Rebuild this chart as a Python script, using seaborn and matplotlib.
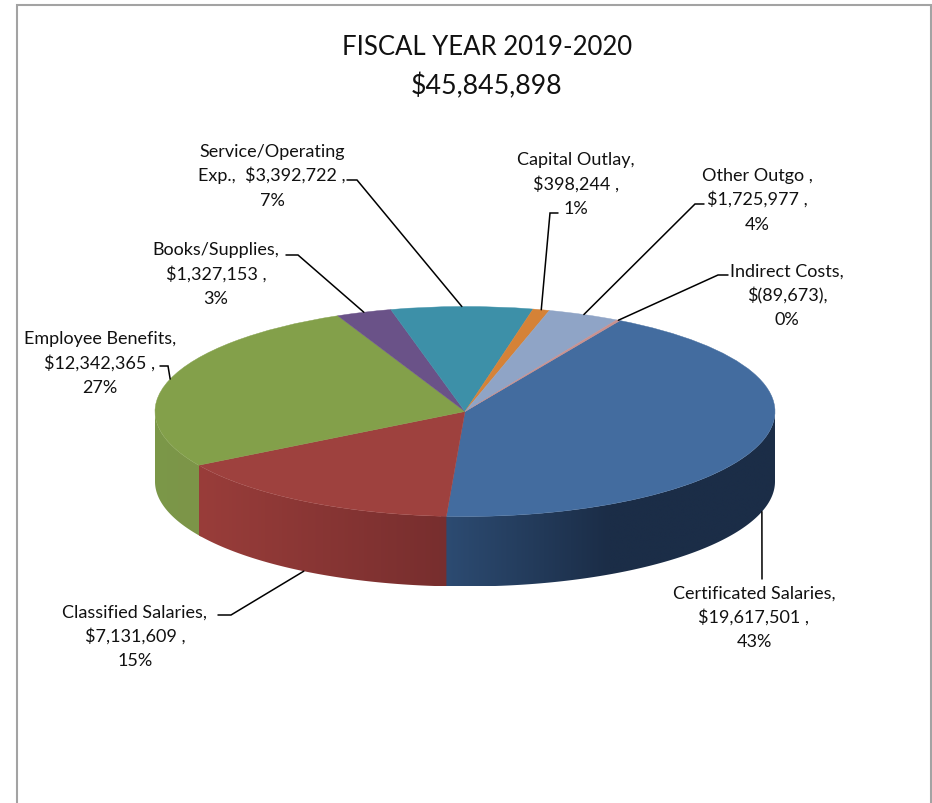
import numpy as np
import matplotlib
matplotlib.use("Agg")
import matplotlib.pyplot as plt
from matplotlib.colors import LinearSegmentedColormap
from matplotlib.patches import Polygon
import seaborn as sns

# Data
categories = ["Certificated Salaries", "Classified Salaries", "Employee Benefits",
              "Books/Supplies", "Service/Operating Exp.", "Capital Outlay",
              "Other Outgo", "Indirect Costs"]
amounts = [19617501, 7131609, 12342365, 1327153, 3392722, 398244, 1725977, -89673]
total_label = "$45,845,898"
title_label = "FISCAL YEAR 2019-2020"
top_colors = ["#436C9F", "#9E413E", "#83A04A", "#6A5288",
              "#3D90A8", "#D58237", "#8FA4C6", "#C9908E"]

sns.set_theme(style="white")
plt.rcParams["font.family"] = ["Lato", "DejaVu Sans"]

W, H = 932, 804
# geometry of the tilted pie, in pixels
CX, CY, RX, RY, DEPTH = 465, 412.5, 310, 105, 70
START = 60

sizes = np.abs(np.array(amounts, dtype=float))
shares = sizes / sizes.sum()
edges = START - np.concatenate([[0], np.cumsum(shares)]) * 360
mids = (edges[:-1] + edges[1:]) / 2


def money(v):
    return f"$({-v:,})" if v < 0 else f"${v:,}"


def rim(angle, lower=False):
    t = np.radians(angle)
    return CX + RX * np.cos(t), CY - RY * np.sin(t) + (DEPTH if lower else 0)


fig = plt.figure(figsize=(W / 100, H / 100), dpi=100, facecolor="white")

# pie top, squashed by the shape of the axes; the axes also hold the wall below it
ax = fig.add_axes([(CX - RX - 2) / W, (H - CY - RY - DEPTH - 2.5) / H,
                   (2 * RX + 4) / W, (2 * RY + DEPTH + 4.5) / H])
wedges, _ = ax.pie(sizes, colors=sns.color_palette(top_colors), startangle=START,
                   counterclock=False, radius=1,
                   wedgeprops=dict(linewidth=0.3, antialiased=True))
for w, c in zip(wedges, top_colors):
    w.set_edgecolor(c)
    w.set_zorder(3)

# front wall: a horizontal gradient clipped to the side of each slice
# (blue and green run a little way under the red one so no seam shows)
wall_ramps = {
    0: [(0.00, "#2D4C73"), (0.50, "#1B2D47"), (1.00, "#1B2D47")],
    1: [(0.00, "#993D3A"), (1.00, "#772E2E")],
    2: [(0.00, "#7B9848"), (1.00, "#7D9449")],
}
wall_pad = {0: (0, 1), 1: (0, 0), 2: (1, 0)}
d = DEPTH / RY
for i, ramp in wall_ramps.items():
    hi = 0 if i == 0 else edges[i] + wall_pad[i][0]
    lo = max(edges[i + 1] - wall_pad[i][1], -180)
    ts = np.radians(np.linspace(hi, lo, 200))
    outline = np.r_[np.c_[np.cos(ts), np.sin(ts)],
                    np.c_[np.cos(ts[::-1]), np.sin(ts[::-1]) - d]]
    cmap = LinearSegmentedColormap.from_list(f"wall{i}", ramp)
    poly = Polygon(outline, closed=True, facecolor="none", edgecolor="none")
    ax.add_patch(poly)
    img = ax.imshow(np.linspace(0, 1, 256)[None, :], cmap=cmap, aspect="auto",
                    zorder=2.5 if i == 1 else 2,
                    extent=(np.cos(ts[-1]), np.cos(ts[0]), np.sin(ts).min() - d, np.sin(ts).max()),
                    interpolation="bilinear")
    img.set_clip_path(poly)

ax.set_aspect("auto")
ax.set_xlim(-1 - 2 / RX, 1 + 2 / RX)
ax.set_ylim(-1 - d - 2.5 / RY, 1 + 2 / RY)

# overlay in pixel coordinates for the frame, the leaders and the text
ov = fig.add_axes([0, 0, 1, 1], facecolor="none")
ov.set_xlim(0, W)
ov.set_ylim(H, 0)
ov.axis("off")
ov.plot([17, 17, 931, 931], [H, 6, 6, H], color="#A3A3A3", lw=1.5, solid_joinstyle="miter")

ov.text(487, 55, title_label, ha="center", va="baseline", fontsize=18.5, color="#111111")
ov.text(487, 94, total_label, ha="center", va="baseline", fontsize=19.3, color="#111111")

# label centre, elbow of the leader, anchor on the rim
label_centres = [(754, 623), (135, 642), (100, 369), (216, 280),
                 (272, 181), (576, 190), (757, 205), (787, 301)]
elbows = [[(762, 580)], [(218, 616), (231, 616)], [(160, 367), (168, 367)], [(286, 256), (298, 256)],
          [(347, 181), (357, 181)], [(558, 214), (550, 214)], [(704, 205), (695, 205)], [(728, 276), (718, 276)]]
anchors = [rim(mids[0], True), rim(mids[1], True), rim(162), rim(mids[3]),
           rim(mids[4]), rim(mids[5]), rim(mids[6]), rim(mids[7])]

for i, name in enumerate(categories):
    pct = f"{shares[i] * 100:.0f}%"
    sep = "" if amounts[i] < 0 else " "
    if name.startswith("Service"):
        head, tail = "Service/Operating", "Exp.,  " + money(amounts[i]) + " ,"
    elif name == "Other Outgo":
        head, tail = name + " ,", money(amounts[i]) + " ,"
    else:
        head, tail = name + ",", money(amounts[i]) + sep + ","
    x, y = label_centres[i]
    for k, line in enumerate([head, tail, pct]):
        ov.text(x, y + (k - 1) * 24.5, line, ha="center", va="baseline",
                fontsize=13.0, color="#111111")
    pts = elbows[i] + [anchors[i]]
    ov.plot([p[0] for p in pts], [p[1] for p in pts], color="black", lw=1.1,
            solid_joinstyle="miter")

fig.savefig("out.png", dpi=100)
